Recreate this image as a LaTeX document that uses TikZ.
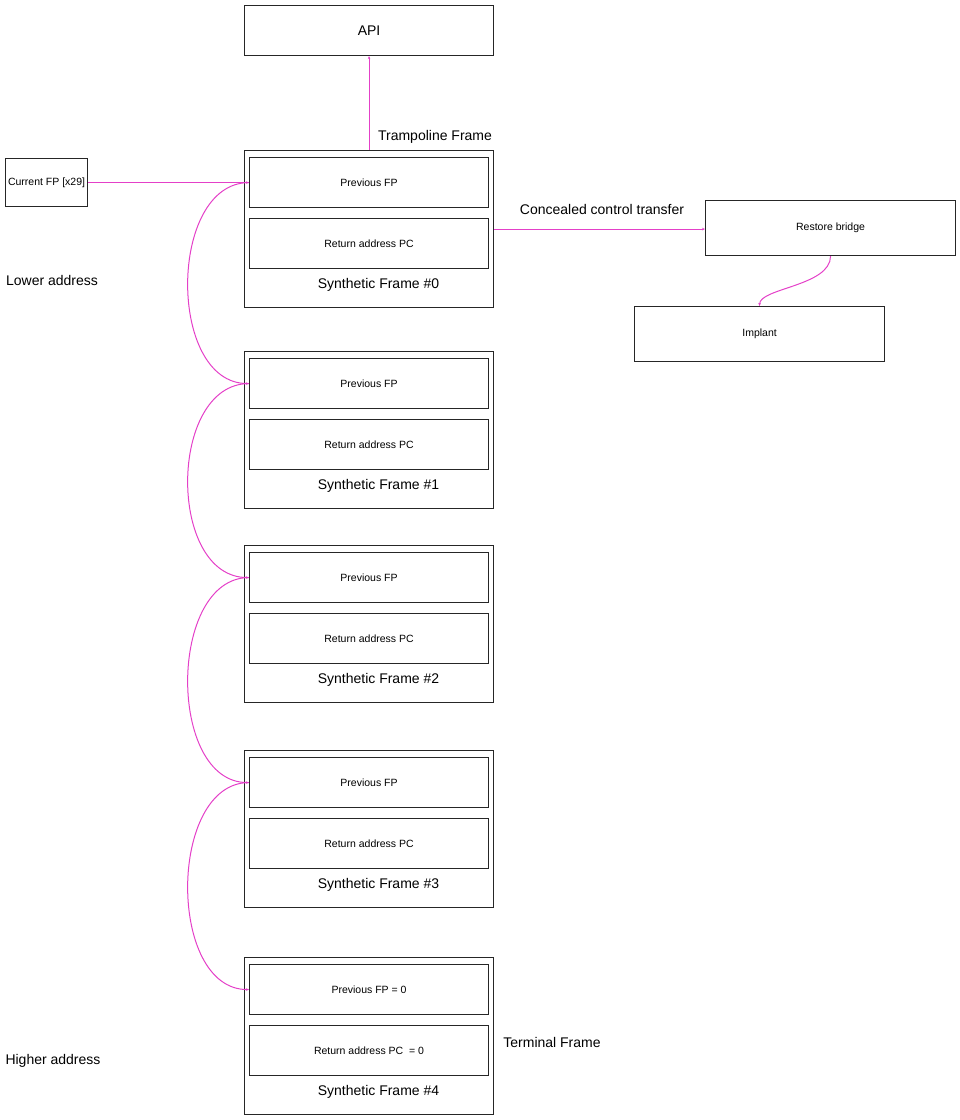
\documentclass[tikz,border=0pt]{standalone}
\usepackage{fontspec}
\setmainfont{Liberation Sans}
\usetikzlibrary{arrows.meta}
\definecolor{linkpink}{RGB}{228,64,200}

\begin{document}
\begin{tikzpicture}[x=1pt,y=-1pt,
		box/.style={draw=black!85, line width=1.1pt, inner sep=0pt, anchor=north west},
		slot/.style={box, minimum width=239pt, minimum height=50pt, font=\fontsize{10.5}{12}\selectfont},
		big/.style={font=\fontsize{14}{16}\selectfont},
		link/.style={draw=linkpink, line width=1pt, -{Stealth[length=3pt,width=2.6pt]}}]
		\useasboundingbox (0,0) rectangle (960,1120);
		% Boxes on top and on the right
		\node[box, big, minimum width=249pt, minimum height=50pt] (api) at (244,5) {API};
		\node[box, minimum width=82pt, minimum height=48pt, font=\fontsize{10.5}{12}\selectfont] (cur) at (5,158) {Current FP [x29]};
		\node[box, minimum width=250pt, minimum height=55pt, font=\fontsize{10.5}{12}\selectfont] (bridge) at (705,200) {Restore bridge};
		\node[box, minimum width=250pt, minimum height=55pt, font=\fontsize{10.5}{12}\selectfont] (implant) at (634,306) {Implant};
		% Synthetic frames
		\foreach \i/\top/\fptext/\pctext in {0/150/Previous FP/Return address PC,
				1/351/Previous FP/Return address PC,
				2/545/Previous FP/Return address PC,
				3/750/Previous FP/Return address PC,
				4/957/Previous FP = 0/Return address PC \ = 0} {
			\node[box, minimum width=249pt, minimum height=157pt] (f\i) at (244,\top) {};
			\node[slot] (f\i fp) at (249,\top+7) {\fptext};
			\node[slot] (f\i pc) at (249,\top+68) {\pctext};
			\node[big] (f\i lab) at (378.5,\top+135) {Synthetic Frame \#\i};
		}
		% Free labels
		\node[big] (tramp) at (435,137) {Trampoline Frame};
		\node[big] (conceal) at (602,209) {Concealed control transfer};
		\node[big] (term) at (552,1042) {Terminal Frame};
		\node[big] (low) at (52,280) {Lower address};
		\node[big] (high) at (53,1061) {Higher address};
		% Connectors
		\draw[link] (f0.north) -- (api.south);
		\draw[link] (cur.east) -- (f0fp.west);
		\draw[link] (f0.east) -- (f0.east -| bridge.west);
		\draw[link] (bridge.south) .. controls +(0,30) and +(0,-18) .. (implant.north);
		\foreach \i/\j in {0/1,1/2,2/3,3/4}
			\draw[link] (f\i fp.west) .. controls +(-81,0) and +(-82,0) .. (f\j fp.west);
	\end{tikzpicture}
\end{document}
